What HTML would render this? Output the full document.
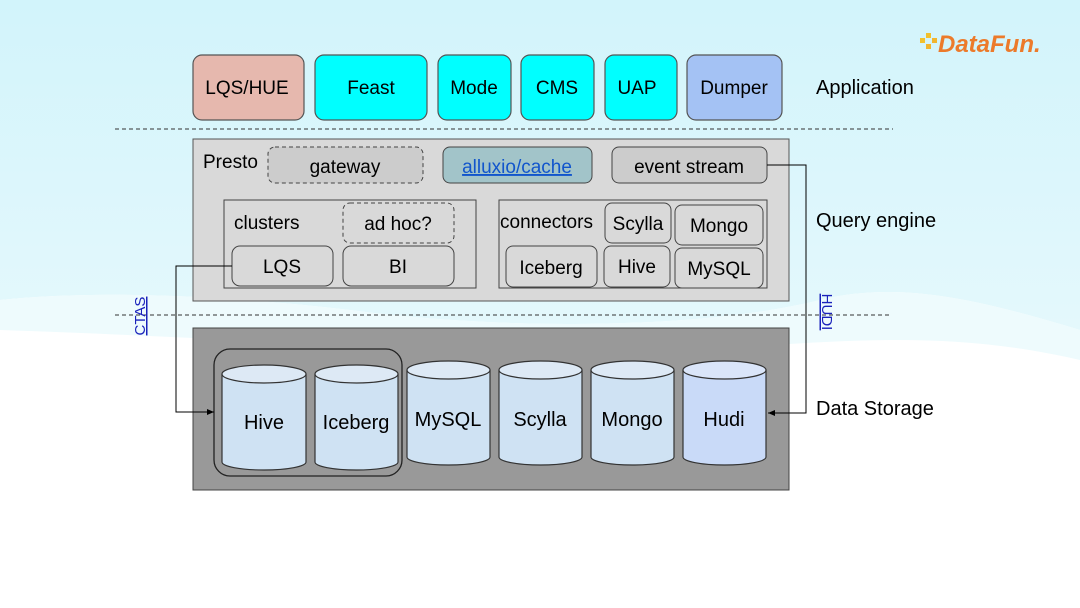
<!DOCTYPE html>
<html><head><meta charset="utf-8"><style>
html,body{margin:0;padding:0;width:1080px;height:608px;overflow:hidden;background:#fff}
svg{display:block}
text{font-family:"Liberation Sans",sans-serif;}
</style></head><body>
<svg width="1080" height="608" viewBox="0 0 1080 608" xmlns="http://www.w3.org/2000/svg">
<defs>
<linearGradient id="bg" x1="0" y1="0" x2="0" y2="1">
<stop offset="0" stop-color="#d2f4fb"/><stop offset="1" stop-color="#e4f8fc"/>
</linearGradient>
<marker id="ar" markerWidth="8" markerHeight="8" refX="7" refY="4" orient="auto"><path d="M0,1 L7,4 L0,7 z" fill="#000"/></marker>
</defs>
<rect width="1080" height="608" fill="#fff"/>
<path d="M0,0 H1080 V330 C980,300 900,280 820,300 C700,330 500,330 350,310 C220,295 100,290 0,300 Z" fill="url(#bg)"/>
<path d="M0,300 C100,290 220,295 350,310 C500,330 700,330 820,300 C900,280 980,300 1080,330 V360 C950,330 850,340 700,350 C500,360 300,340 0,330Z" fill="#eefbfd"/>
<g>
<rect x="920" y="38" width="5" height="5" fill="#f2c12e"/><rect x="926" y="33" width="5" height="5" fill="#f2c12e"/><rect x="926" y="44" width="5" height="5" fill="#f2b52e"/><rect x="932" y="38" width="5" height="5" fill="#f2b52e"/>
<text x="938" y="52" font-size="24" font-weight="bold" font-style="italic" fill="#ec7a2a">DataFun.</text>
</g>
<g stroke="#555" stroke-width="1.2">
<rect x="193" y="55" width="111" height="65" rx="9" fill="#e6b8ae"/>
<rect x="315" y="55" width="112" height="65" rx="9" fill="#00ffff"/>
<rect x="438" y="55" width="73" height="65" rx="9" fill="#00ffff"/>
<rect x="521" y="55" width="73" height="65" rx="9" fill="#00ffff"/>
<rect x="605" y="55" width="72" height="65" rx="9" fill="#00ffff"/>
<rect x="687" y="55" width="95" height="65" rx="9" fill="#a4c2f4"/>
</g>
<g font-size="19" text-anchor="middle" fill="#000">
<text x="247" y="94">LQS/HUE</text><text x="371" y="94">Feast</text><text x="474" y="94">Mode</text><text x="557" y="94">CMS</text><text x="637" y="94">UAP</text><text x="734" y="94">Dumper</text>
</g>
<g font-size="20" fill="#000">
<text x="816" y="94">Application</text><text x="816" y="227">Query engine</text><text x="816" y="415">Data Storage</text>
</g>
<line x1="115" y1="129" x2="893" y2="129" stroke="#333" stroke-dasharray="4,3"/>
<line x1="115" y1="315" x2="890" y2="315" stroke="#333" stroke-dasharray="4,3"/>
<rect x="193" y="139" width="596" height="162" fill="#d9d9d9" stroke="#555"/>
<text x="203" y="168" font-size="19">Presto</text>
<rect x="268" y="147" width="155" height="36" rx="7" fill="#cccccc" stroke="#444" stroke-dasharray="4,3"/>
<text x="345" y="173" font-size="19" text-anchor="middle">gateway</text>
<rect x="443" y="147" width="149" height="36" rx="7" fill="#a2c4c9" stroke="#444"/>
<text x="517" y="173" font-size="19" text-anchor="middle" fill="#1155cc" text-decoration="underline">alluxio/cache</text>
<rect x="612" y="147" width="155" height="36" rx="7" fill="#cccccc" stroke="#444"/>
<text x="689" y="173" font-size="19" text-anchor="middle">event stream</text>
<rect x="224" y="200" width="252" height="88" fill="#d9d9d9" stroke="#444"/>
<text x="234" y="229" font-size="19">clusters</text>
<rect x="343" y="203" width="111" height="40" rx="7" fill="#d9d9d9" stroke="#444" stroke-dasharray="4,3"/>
<text x="398" y="230" font-size="19" text-anchor="middle">ad hoc?</text>
<rect x="232" y="246" width="101" height="40" rx="8" fill="#d9d9d9" stroke="#444"/>
<text x="282" y="273" font-size="19" text-anchor="middle">LQS</text>
<rect x="343" y="246" width="111" height="40" rx="8" fill="#d9d9d9" stroke="#444"/>
<text x="398" y="273" font-size="19" text-anchor="middle">BI</text>
<rect x="499" y="200" width="268" height="88" fill="#d9d9d9" stroke="#444"/>
<text x="500" y="228" font-size="19">connectors</text>
<g stroke="#444" fill="#d9d9d9">
<rect x="605" y="203" width="66" height="40" rx="7"/><rect x="675" y="205" width="88" height="40" rx="7"/>
<rect x="506" y="246" width="91" height="41" rx="7"/><rect x="604" y="246" width="66" height="41" rx="7"/><rect x="675" y="248" width="88" height="40" rx="7"/>
</g>
<g font-size="19" text-anchor="middle">
<text x="638" y="230">Scylla</text><text x="719" y="232">Mongo</text><text x="551" y="274">Iceberg</text><text x="637" y="273">Hive</text><text x="719" y="275">MySQL</text>
</g>
<rect x="193" y="328" width="596" height="162" fill="#999999" stroke="#444"/>
<rect x="214" y="349" width="188" height="127" rx="16" fill="none" stroke="#222" stroke-width="1.3"/>
<g stroke="#333" stroke-width="1.2">
<path d="M222,374 V462 A42,8 0 0 0 306,462 V374" fill="#cfe2f3"/><ellipse cx="264" cy="374" rx="42" ry="9" fill="#dde9f5"/>
<path d="M315,374 V462 A41.5,8 0 0 0 398,462 V374" fill="#cfe2f3"/><ellipse cx="356.5" cy="374" rx="41.5" ry="9" fill="#dde9f5"/>
<path d="M407,370 V457 A41.5,8 0 0 0 490,457 V370" fill="#cfe2f3"/><ellipse cx="448.5" cy="370" rx="41.5" ry="9" fill="#dde9f5"/>
<path d="M499,370 V457 A41.5,8 0 0 0 582,457 V370" fill="#cfe2f3"/><ellipse cx="540.5" cy="370" rx="41.5" ry="9" fill="#dde9f5"/>
<path d="M591,370 V457 A41.5,8 0 0 0 674,457 V370" fill="#cfe2f3"/><ellipse cx="632.5" cy="370" rx="41.5" ry="9" fill="#dde9f5"/>
<path d="M683,370 V457 A41.5,8 0 0 0 766,457 V370" fill="#c9daf8"/><ellipse cx="724.5" cy="370" rx="41.5" ry="9" fill="#dae5f9"/>
</g>
<g font-size="20" text-anchor="middle">
<text x="264" y="429">Hive</text><text x="356" y="429">Iceberg</text><text x="448" y="426">MySQL</text><text x="540" y="426">Scylla</text><text x="632" y="426">Mongo</text><text x="724" y="426">Hudi</text>
</g>
<polyline points="232,266 176,266 176,412 214,412" fill="none" stroke="#000" marker-end="url(#ar)"/>
<polyline points="767,165 806,165 806,413 768,413" fill="none" stroke="#000" marker-end="url(#ar)"/>
<text transform="translate(145,316) rotate(-90)" font-size="15" text-anchor="middle" fill="#1a22bb" text-decoration="underline">CTAS</text>
<text transform="translate(822,312) rotate(90)" font-size="15" text-anchor="middle" fill="#1a22bb" text-decoration="underline">HUDI</text>
</svg>
</body></html>
